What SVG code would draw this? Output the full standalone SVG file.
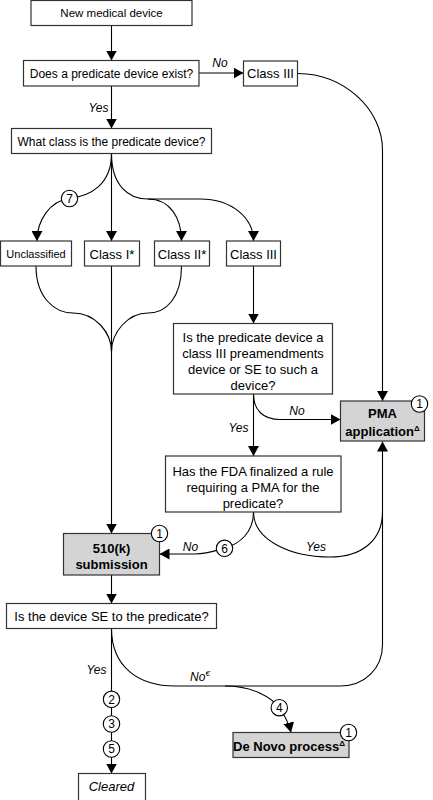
<svg xmlns="http://www.w3.org/2000/svg" width="433" height="800" viewBox="0 0 433 800">
<defs>
<marker id="ah" markerUnits="userSpaceOnUse" markerWidth="11" markerHeight="11" refX="10" refY="5.5" orient="auto">
<path d="M0,0 L10,5.5 L0,11 z" fill="#000"/>
</marker>
<style>
rect{fill:#fff;stroke:#333;stroke-width:1.2}
rect.g{fill:#d4d4d4}
text{font-family:"Liberation Sans",Arial,sans-serif;fill:#000;text-anchor:middle}
.c path{fill:none;stroke:#000;stroke-width:1.1}
.c path.a{marker-end:url(#ah)}
.c circle{fill:#fff;stroke:#000;stroke-width:1.1}
.c text{font-size:12px}
.lbl{font-style:italic;font-size:12.5px}
.b{font-weight:bold;font-size:13px}
</style>
</defs>
<g id="connectors" class="c">
<path class="a" d="M111.5,26 L111.5,60.5"/>
<path class="a" d="M199,73 L243.5,73"/>
<path class="a" d="M111.5,86 L111.5,128.5"/>
<path class="a" d="M298,73.5 C345,74 382.5,110 382.5,150 L382.5,401"/>
<path class="a" d="M111.5,153.5 C111.5,185 90,196 69.5,198.5 C50,201 37,220 37,241"/>
<path class="a" d="M111.5,153.5 L111.5,241"/>
<path class="a" d="M111.5,153.5 C111.5,185 128,199 148,199 L200,199 C232,199 253.5,218 253.5,241"/>
<path class="a" d="M148,199 C170,199 181.5,218 181.5,241"/>
<path d="M36,266 C36,298 55,313 73,313 C95,313 111.5,332 111.5,352"/>
<path d="M181.5,266 C181.5,298 166,313 148,313 C128,313 111.5,332 111.5,352"/>
<path class="a" d="M111.5,266 L111.5,533.5"/>
<path class="a" d="M253.5,266 L253.5,323.5"/>
<path class="a" d="M253.5,394 C253.5,410 263,419.5 280,419.5 L340.5,419.5"/>
<path class="a" d="M253.5,394 L253.5,456"/>
<path class="a" d="M253.5,512 C253.5,532 240,544 224.5,548 C214,551 208,554 195,554 L159.5,554"/>
<path d="M253.5,512 C253.5,540 290,557 330,557 C362,557 382.5,540 382.5,512"/>
<path class="a" d="M111.5,628.5 C111.5,668 140,686 175,686 L340,686 C365,686 382.5,668 382.5,645 L382.5,441.5"/>
<path class="a" d="M225,686 C252,686 272,697 280,709 C285,716 289,724 291,732.5"/>
<path class="a" d="M111.5,628.5 L111.5,773.5"/>
<path class="a" d="M111.5,575 L111.5,603.5"/>
<text class="lbl" x="220" y="67">No</text>
<text class="lbl" x="98.5" y="112">Yes</text>
<text class="lbl" x="297" y="415">No</text>
<text class="lbl" x="238.5" y="432">Yes</text>
<text class="lbl" x="190.5" y="551">No</text>
<text class="lbl" x="316" y="551">Yes</text>
<text class="lbl" x="96.5" y="674">Yes</text>
<text class="lbl" x="200" y="681">No<tspan font-size="8" dy="-5">€</tspan></text>
<circle cx="69.5" cy="198.5" r="8.2"/><text x="69.5" y="202.8">7</text>
<circle cx="224.5" cy="548.3" r="8.2"/><text x="224.5" y="552.6">6</text>
<circle cx="279.3" cy="707.7" r="8.2"/><text x="279.3" y="712">4</text>
<circle cx="111.5" cy="699.3" r="8.2"/><text x="111.5" y="703.6">2</text>
<circle cx="111.5" cy="724" r="8.2"/><text x="111.5" y="728.3">3</text>
<circle cx="111.5" cy="749" r="8.2"/><text x="111.5" y="753.3">5</text>
</g>
<g id="n-new"><rect x="31" y="0.5" width="161" height="25"/><text x="111.5" y="17" font-size="11.5">New medical device</text></g>
<g id="n-exist"><rect x="23.5" y="60.5" width="175.5" height="25.5"/><text x="111.5" y="77.5" font-size="12">Does a predicate device exist?</text></g>
<g id="n-c3top"><rect x="243.5" y="61" width="54" height="25"/><text x="270.5" y="78" font-size="13">Class III</text></g>
<g id="n-what"><rect x="11.5" y="128.5" width="200" height="25"/><text x="111.5" y="145.5" font-size="12">What class is the predicate device?</text></g>
<g id="n-uncl"><rect x="0.5" y="241" width="71" height="25"/><text x="36" y="258" font-size="11">Unclassified</text></g>
<g id="n-c1"><rect x="84.5" y="241" width="55" height="25"/><text x="112" y="258.5" font-size="13">Class I*</text></g>
<g id="n-c2"><rect x="154.5" y="241" width="55" height="25"/><text x="182" y="258.5" font-size="13">Class II*</text></g>
<g id="n-c3"><rect x="226.5" y="241" width="54" height="25"/><text x="253.5" y="258.5" font-size="13">Class III</text></g>
<g id="n-preamend"><rect x="173.5" y="323.5" width="159" height="70.5"/>
<text font-size="13"><tspan x="253" y="341.5">Is the predicate device a</tspan><tspan x="253" y="357.5">class III preamendments</tspan><tspan x="253" y="373.5">device or SE to such a</tspan><tspan x="253" y="389.5">device?</tspan></text></g>
<g id="n-pma"><rect class="g" x="340.5" y="401" width="84" height="40"/>
<text class="b" x="382.5" y="418">PMA</text><text class="b" x="382.5" y="435.5">application<tspan font-size="8" dy="-5">Δ</tspan></text>
<circle cx="419.5" cy="404" r="8.2" fill="#fff" stroke="#000" stroke-width="1.1"/><text x="419.5" y="408.3" font-size="12">1</text></g>
<g id="n-fda"><rect x="165.5" y="456" width="175.5" height="56"/>
<text font-size="13"><tspan x="253" y="475.5">Has the FDA finalized a rule</tspan><tspan x="253" y="491.5">requiring a PMA for the</tspan><tspan x="253" y="507.5">predicate?</tspan></text></g>
<g id="n-510k"><rect class="g" x="63.5" y="533.5" width="96" height="41.5"/>
<text class="b" x="111.5" y="552.5">510(k)</text><text class="b" x="111.5" y="568.5">submission</text>
<circle cx="159.5" cy="533.5" r="8.2" fill="#fff" stroke="#000" stroke-width="1.1"/><text x="159.5" y="537.8" font-size="12">1</text></g>
<g id="n-se"><rect x="6.5" y="603.5" width="210" height="25"/><text x="111.5" y="620.5" font-size="13">Is the device SE to the predicate?</text></g>
<g id="n-denovo"><rect class="g" x="233" y="732.5" width="116" height="25"/>
<text class="b" x="289" y="751">De Novo process<tspan font-size="8" dy="-5">Δ</tspan></text>
<circle cx="348.5" cy="732.5" r="8.2" fill="#fff" stroke="#000" stroke-width="1.1"/><text x="348.5" y="736.8" font-size="12">1</text></g>
<g id="n-cleared"><rect x="78.5" y="773.5" width="67" height="30"/><text x="111.5" y="791" font-size="13" font-style="italic">Cleared</text></g>
</svg>
